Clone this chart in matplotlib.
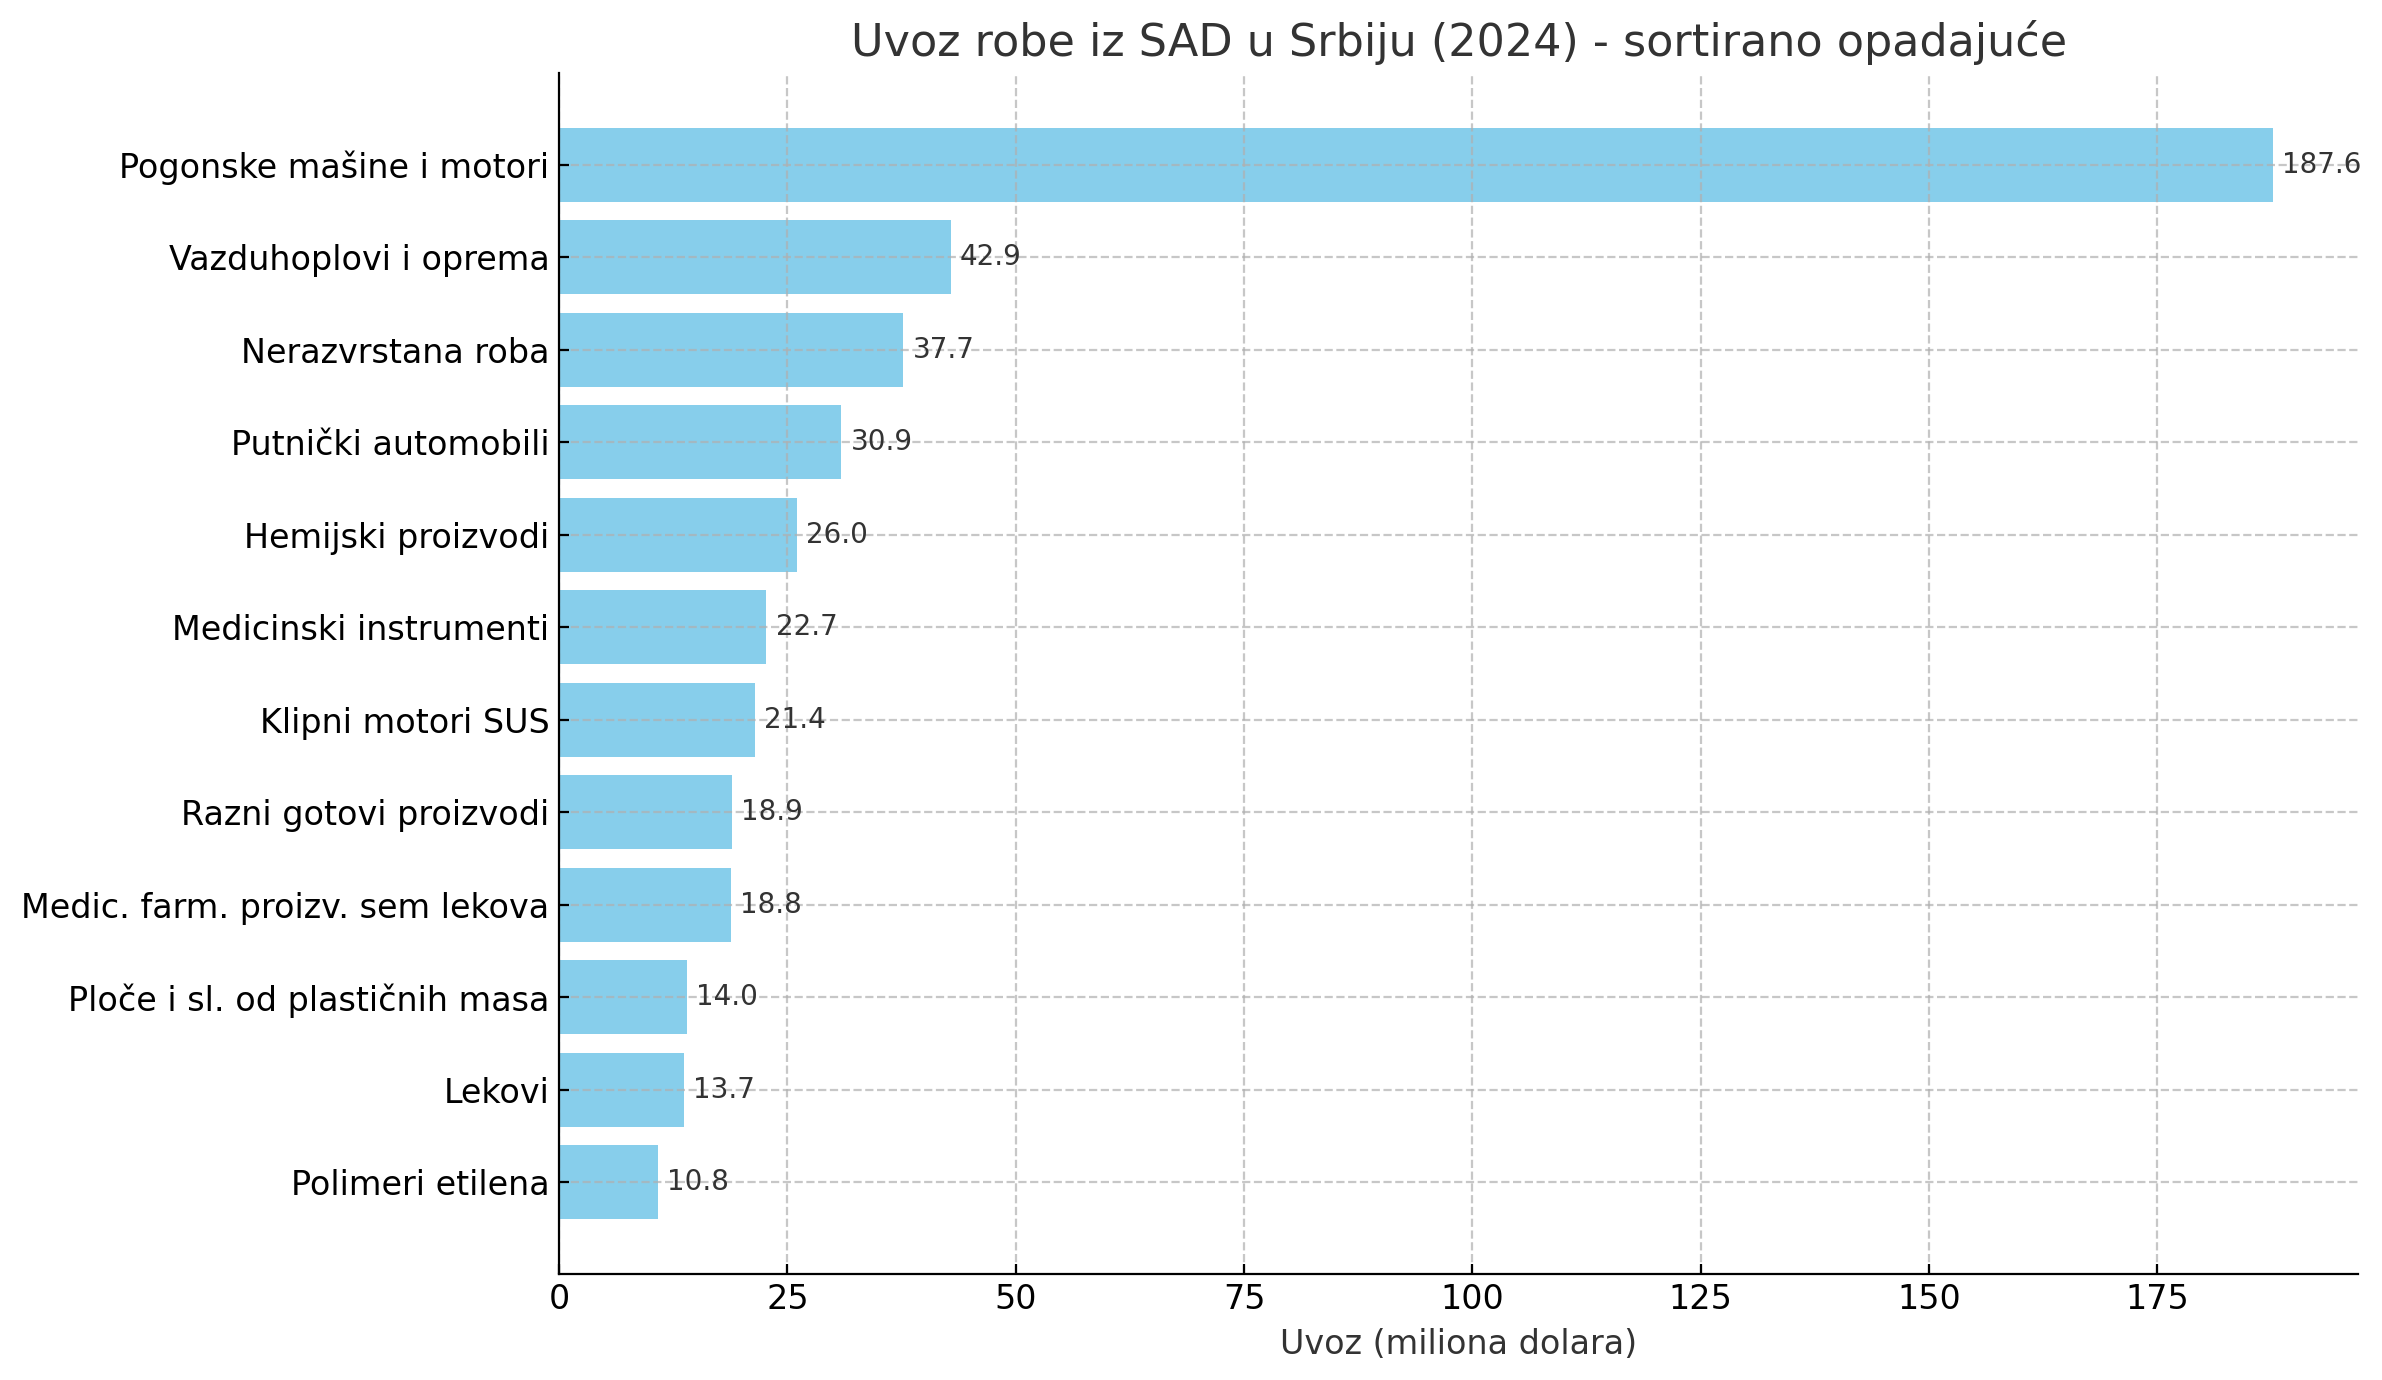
import matplotlib
matplotlib.use("Agg")
from matplotlib import pyplot as plt

kategorije = ["Pogonske mašine i motori", "Vazduhoplovi i oprema", "Nerazvrstana roba",
              "Putnički automobili", "Hemijski proizvodi", "Medicinski instrumenti",
              "Klipni motori SUS", "Razni gotovi proizvodi", "Medic. farm. proizv. sem lekova",
              "Ploče i sl. od plastičnih masa", "Lekovi", "Polimeri etilena"]
uvoz = [187.6, 42.9, 37.7, 30.9, 26.0, 22.7, 21.4, 18.9, 18.8, 14.0, 13.7, 10.8]

fig, ax = plt.subplots(figsize=(11.91, 6.9), dpi=200)
fig.subplots_adjust(left=0.2347, right=0.990, top=0.947, bottom=0.077)

bars = ax.barh(kategorije, uvoz, color='skyblue')
ax.invert_yaxis()
for b, v in zip(bars, uvoz):
    ax.text(b.get_width() + 1, b.get_y() + b.get_height() / 2, f"{v:.1f}",
            va='center', ha='left', fontsize=10, color='#333333')

ax.set_title("Uvoz robe iz SAD u Srbiju (2024) - sortirano opadajuće", fontsize=16, color='#333333')
ax.set_xlabel("Uvoz (miliona dolara)", fontsize=12, color='#333333')
ax.tick_params(axis='both', labelsize=12, direction='in')
ax.grid(True, linestyle='--', alpha=0.7)
ax.spines['top'].set_visible(False)
ax.spines['right'].set_visible(False)

plt.savefig("out.png")
